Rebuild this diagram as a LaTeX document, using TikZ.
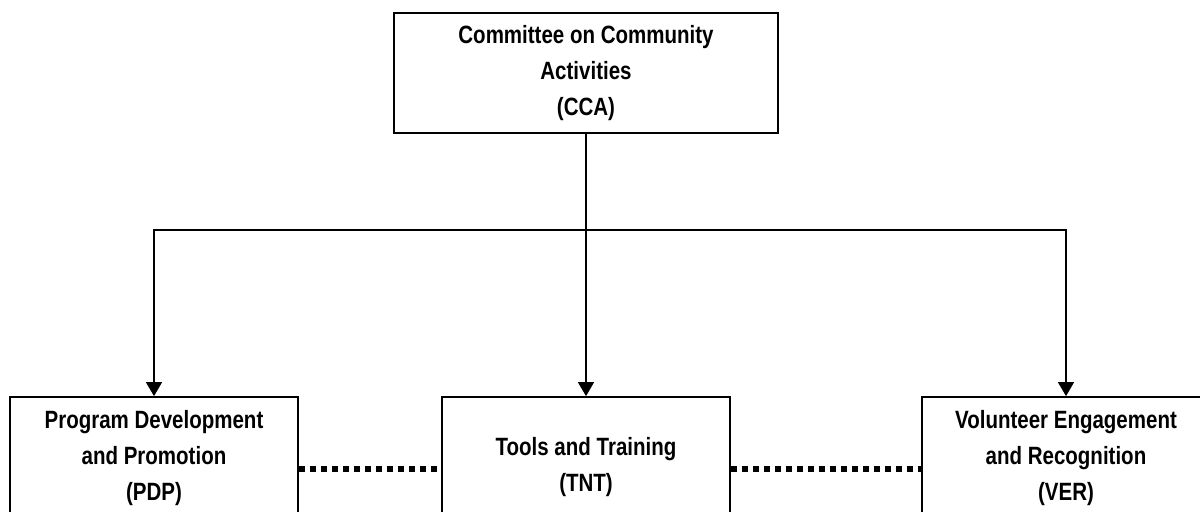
\documentclass[tikz,border=0pt]{standalone}
\usepackage{fontspec}
\setmainfont{Liberation Sans}[FakeStretch=0.82]
\usetikzlibrary{arrows.meta}

\begin{document}
\begin{tikzpicture}[level distance=192.5pt, sibling distance=240pt,
 every node/.style = {shape=rectangle, draw, line width=0.9pt, align=center, font=\fontsize{12.5}{18}\selectfont\bfseries},
 topbox/.style = {minimum width=192pt, minimum height=60pt},
 subbox/.style = {minimum width=144pt, minimum height=61pt},
 edge from parent/.style = {draw, line width=0.7pt, -{Triangle[length=7pt,width=8pt]}},
 edge from parent path = {(\tikzparentnode.south) -- ++(0,-48pt) -| (\tikzchildnode.north)},
 dotlink/.style = {line width=2.6pt, dash pattern=on 3pt off 2.5pt}]
\useasboundingbox (0,0) rectangle (600pt,-255.5pt);
\clip (0,0) rectangle (600pt,-255.5pt);
\node[topbox] (cca) at (293pt,-36.5pt) {Committee on Community\\Activities\\(CCA)}
child { node[subbox, xshift=24pt] (pdp) {Program Development\\and Promotion\\(PDP)} }
child { node[subbox] (tnt) {\mbox{}\\Tools and Training\\(TNT)} }
child { node[subbox] (ver) {Volunteer Engagement\\and Recognition\\(VER)} }
;
% dotted links between the sub-committees
\draw[dotlink] ([yshift=-5.5pt]pdp.east) -- ([yshift=-5.5pt]tnt.west);
\draw[dotlink] ([yshift=-5.5pt]tnt.east) -- ([yshift=-5.5pt]ver.west);
\end{tikzpicture}
\end{document}
